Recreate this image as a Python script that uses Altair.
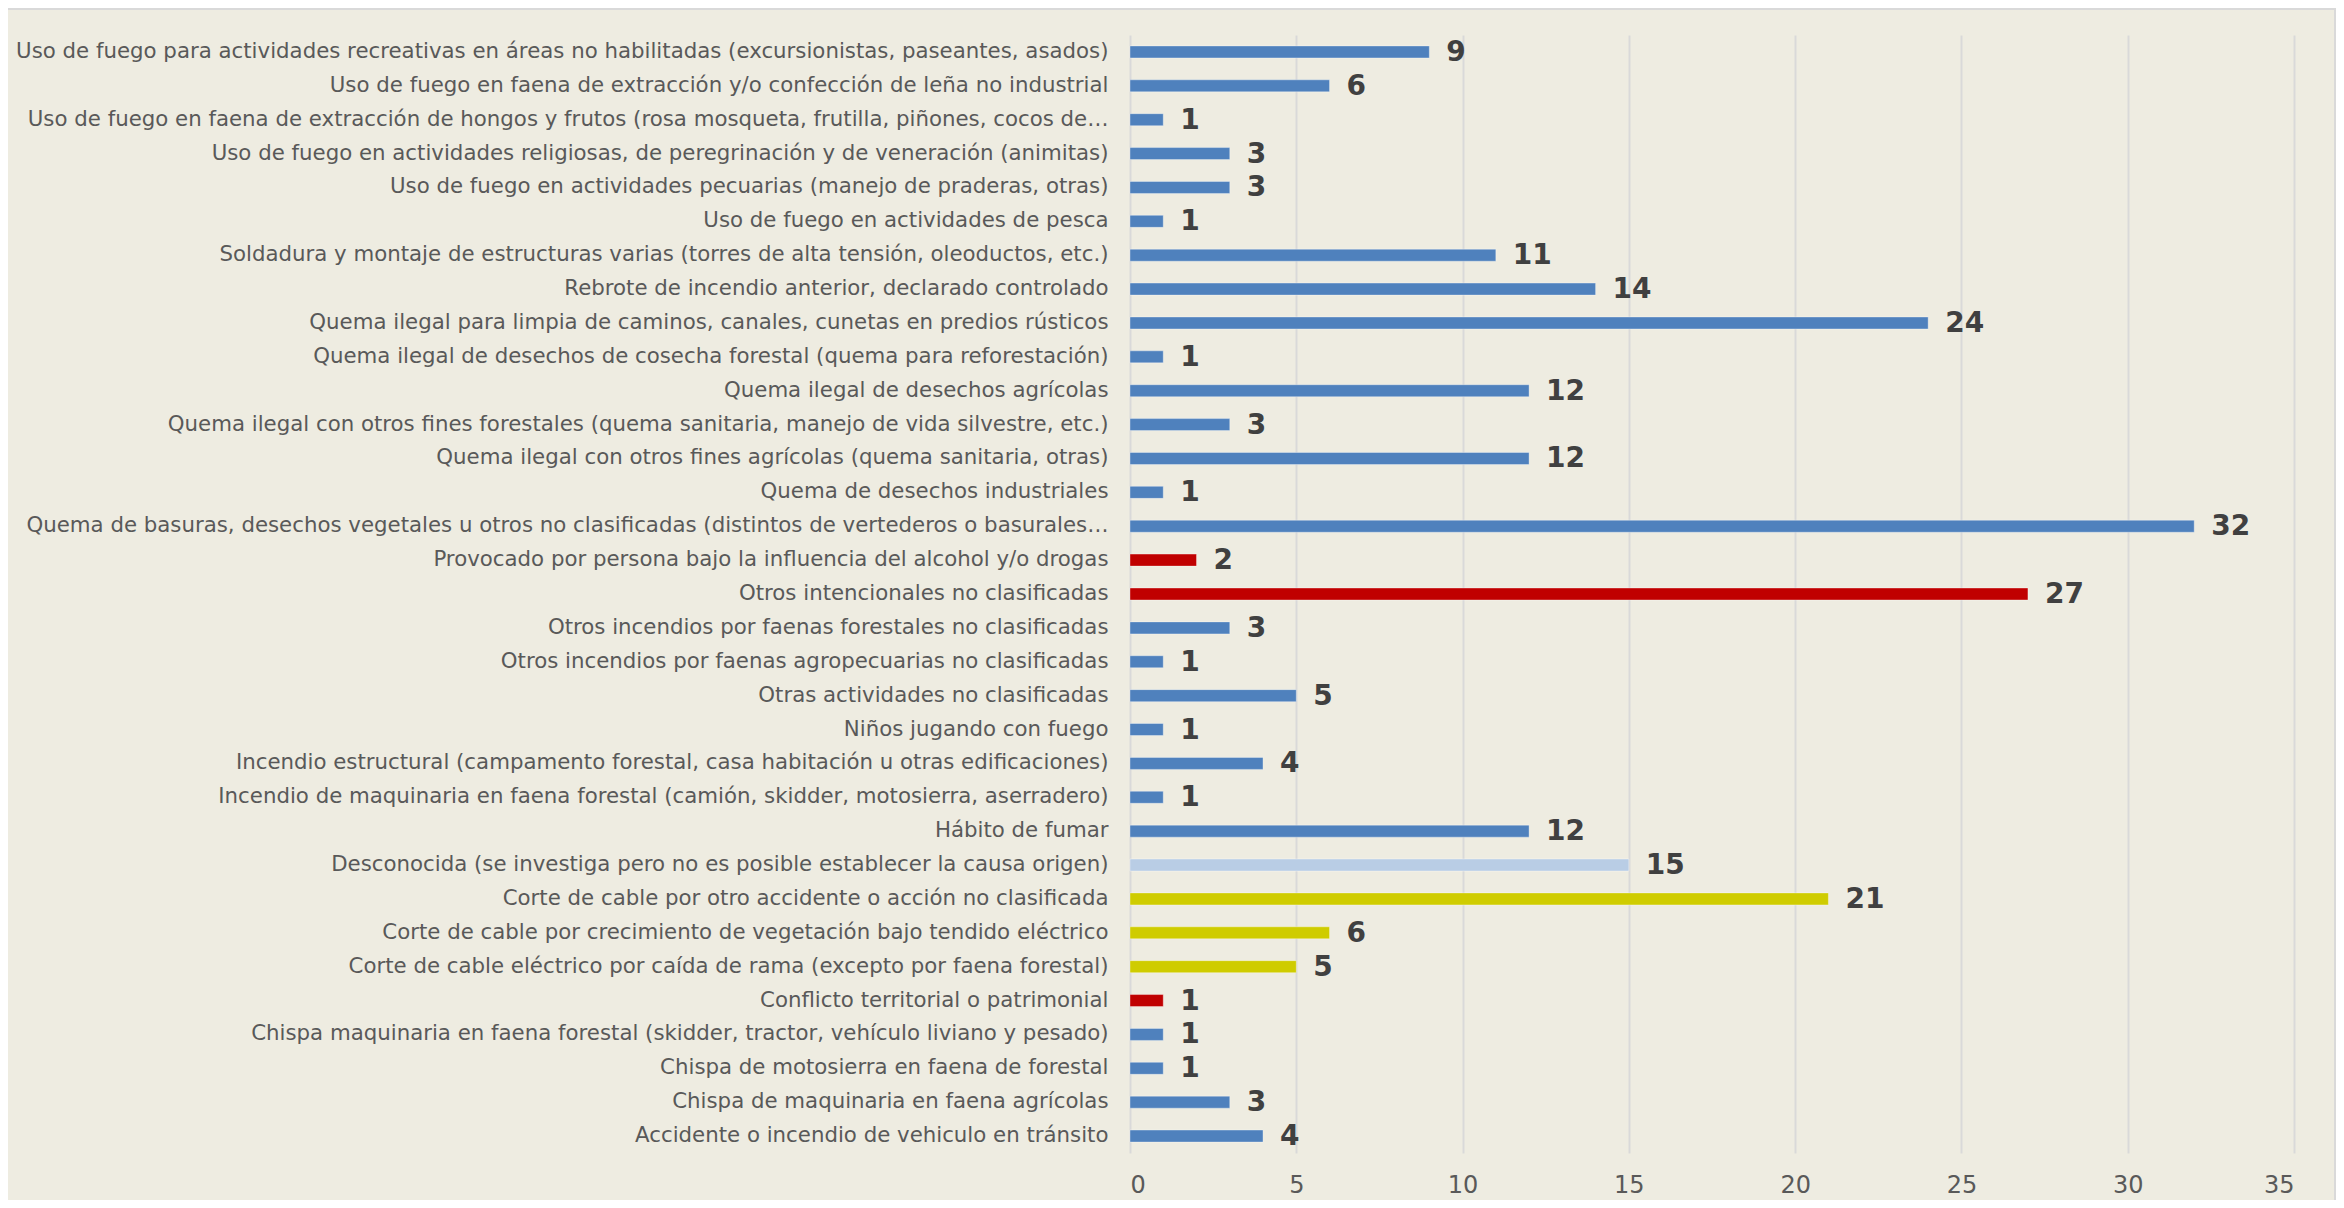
import altair as alt
import pandas as pd

categorias = [
    "Uso de fuego para actividades recreativas en áreas no habilitadas (excursionistas, paseantes, asados)",
    "Uso de fuego en faena de extracción y/o confección de leña no industrial",
    "Uso de fuego en faena de extracción de hongos y frutos (rosa mosqueta, frutilla, piñones, cocos de…",
    "Uso de fuego en actividades religiosas, de peregrinación y de veneración (animitas)",
    "Uso de fuego en actividades pecuarias (manejo de praderas, otras)",
    "Uso de fuego en actividades de pesca",
    "Soldadura y montaje de estructuras varias (torres de alta tensión, oleoductos, etc.)",
    "Rebrote de incendio anterior, declarado controlado",
    "Quema ilegal para limpia de caminos, canales, cunetas en predios rústicos",
    "Quema ilegal de desechos de cosecha forestal (quema para reforestación)",
    "Quema ilegal de desechos agrícolas",
    "Quema ilegal con otros fines forestales (quema sanitaria, manejo de vida silvestre, etc.)",
    "Quema ilegal con otros fines agrícolas (quema sanitaria, otras)",
    "Quema de desechos industriales",
    "Quema de basuras, desechos vegetales u otros no clasificadas (distintos de vertederos o basurales…",
    "Provocado por persona bajo la influencia del alcohol y/o drogas",
    "Otros intencionales no clasificadas",
    "Otros incendios por faenas forestales no clasificadas",
    "Otros incendios por faenas agropecuarias no clasificadas",
    "Otras actividades no clasificadas\u00a0",
    "Niños jugando con fuego",
    "Incendio estructural (campamento forestal, casa habitación u otras edificaciones)",
    "Incendio de maquinaria en faena forestal (camión, skidder, motosierra, aserradero)",
    "Hábito de fumar",
    "Desconocida (se investiga pero no es posible establecer la causa origen)",
    "Corte de cable por otro accidente o acción no clasificada",
    "Corte de cable por crecimiento de vegetación bajo tendido eléctrico",
    "Corte de cable eléctrico por caída de rama (excepto por faena forestal)",
    "Conflicto territorial o patrimonial",
    "Chispa maquinaria en faena forestal (skidder, tractor, vehículo liviano y pesado)",
    "Chispa de motosierra en faena de forestal",
    "Chispa de maquinaria en faena agrícolas",
    "Accidente o incendio de vehiculo en tránsito",
]

valores = [9, 6, 1, 3, 3, 1, 11, 14, 24, 1, 12, 3, 12, 1, 32, 2, 27, 3, 1, 5,
           1, 4, 1, 12, 15, 21, 6, 5, 1, 1, 1, 3, 4]

grupos = (["accidental"] * 15 + ["intencional"] * 2 + ["accidental"] * 7 +
          ["desconocida"] + ["electrico"] * 3 + ["intencional"] + ["accidental"] * 4)

grupo_dominio = ["accidental", "intencional", "desconocida", "electrico"]
grupo_colores = ["#4F81BD", "#C00000", "#B9CDE5", "#CFCC00"]

x_ticks = [0, 5, 10, 15, 20, 25, 30, 35]

df = pd.DataFrame({"causa": categorias, "n": valores, "grupo": grupos})

W = 1164
H = 1118
BG = "#EEECE1"
FONT = "DejaVu Sans"

y_enc = alt.Y(
    "causa:N",
    sort=categorias,
    title=None,
    scale=alt.Scale(paddingInner=0, paddingOuter=0),
    axis=alt.Axis(
        labelLimit=0,
        labelFontSize=21.3,
        labelFont=FONT,
        labelColor="#595959",
        labelPadding=22,
        ticks=False,
        domain=False,
        grid=False,
    ),
)

x_enc = alt.X(
    "n:Q",
    title=None,
    scale=alt.Scale(domain=[0, 35], nice=False),
    axis=alt.Axis(
        values=x_ticks,
        labelFontSize=24,
        labelFont=FONT,
        labelColor="#595959",
        labelPadding=20,
        ticks=False,
        domain=False,
        grid=True,
        gridColor="#D9D9D9",
        gridWidth=2,
    ),
)

bars = alt.Chart(df).mark_bar(size=12, strokeWidth=1, strokeOpacity=0.35, stroke="#FFFFFF").encode(
    x=x_enc,
    y=y_enc,
    color=alt.Color("grupo:N", scale=alt.Scale(domain=grupo_dominio, range=grupo_colores), legend=None),
)

labels = alt.Chart(df).mark_text(
    align="left", baseline="middle", dx=17, dy=1, fontSize=28, fontWeight="bold",
    font=FONT, color="#404040",
).encode(
    x="n:Q",
    y=alt.Y("causa:N", sort=categorias),
    text="n:Q",
)

border_df = pd.DataFrame({"k": [0]})
top_border = alt.Chart(border_df).mark_rule(color="#D9D9D9", strokeWidth=2).encode(
    x=alt.value(-1122), x2=alt.value(1205), y=alt.value(-26)
)
right_border = alt.Chart(border_df).mark_rule(color="#D9D9D9", strokeWidth=2).encode(
    x=alt.value(1205), y=alt.value(-27), y2=alt.value(1165)
)

chart = alt.layer(bars, labels, top_border, right_border).properties(
    width=W,
    height=H,
    background=BG,
    padding={"left": 1122, "top": 27, "right": 42, "bottom": 47},
    autosize=alt.AutoSizeParams(type="none"),
).configure_view(stroke=None)

chart.save("out.html", embed_options={"renderer": "svg", "actions": False})
